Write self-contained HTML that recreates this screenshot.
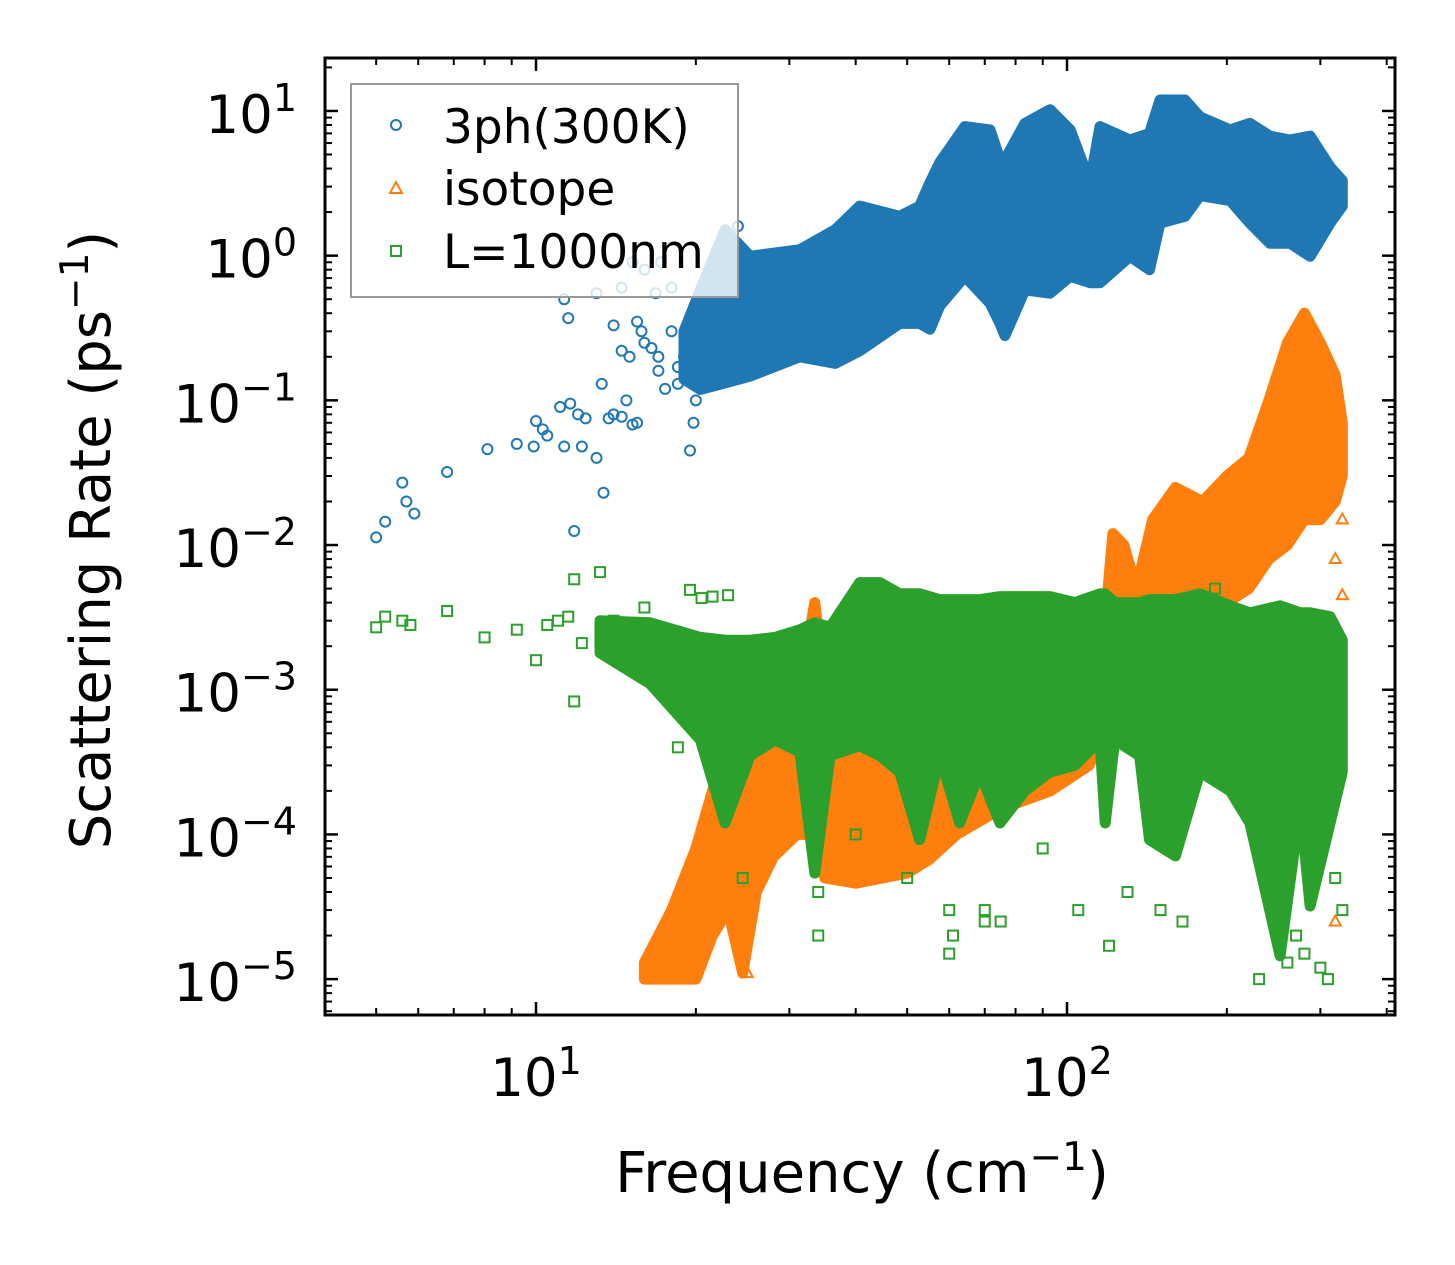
<!DOCTYPE html>
<html><head><meta charset="utf-8"><style>
body{margin:0;background:#fff;}
svg{display:block;font-family:"DejaVu Sans","Liberation Sans",sans-serif;}
</style></head><body>
<svg id="chart" width="1455" height="1265" viewBox="0 0 1455 1265" xmlns="http://www.w3.org/2000/svg">
<defs><clipPath id="clip"><rect x="325" y="58" width="1070" height="957"/></clipPath></defs>
<rect width="1455" height="1265" fill="#fff"/>
<g id="plot" clip-path="url(#clip)"></g>
<g id="axes"></g>
<text x="862" y="1192" font-size="56" text-anchor="middle">Frequency (cm<tspan dy="-22" font-size="39">−1</tspan><tspan dy="22">)</tspan></text>
<text transform="translate(110,540) rotate(-90)" font-size="56" text-anchor="middle">Scattering Rate (ps<tspan dy="-22" font-size="39">−1</tspan><tspan dy="22">)</tspan></text>
<g>
<rect x="351" y="84" width="387" height="213" fill="#fff" fill-opacity="0.8" stroke="#999" stroke-width="2"/>
<g><circle cx="396" cy="125" r="5" fill="none" stroke="#1f77b4" stroke-width="2"/><text x="443" y="143" font-size="47">3ph(300K)</text></g>
<g><path d="M396,182 L402,193 L390,193 Z" fill="none" stroke="#ff7f0e" stroke-width="2"/><text x="443" y="205" font-size="47">isotope</text></g>
<g><rect x="391" y="246" width="10" height="10" fill="none" stroke="#2ca02c" stroke-width="2"/><text x="443" y="268" font-size="47">L=1000nm</text></g>
</g>
</svg>
<script>
// axis geometry
const X0=325,X1=1395,Y0=58,Y1=1015;
const xLogMin=0.6026,xLogMax=2.6177;
const yLogMin=-5.248,yLogMax=1.366;
function sx(v){return X0+(Math.log10(v)-xLogMin)/(xLogMax-xLogMin)*(X1-X0);}
function sy(v){return Y1-(Math.log10(v)-yLogMin)/(yLogMax-yLogMin)*(Y1-Y0);}

// blue: 3ph sparse points
const phFreq=[5.0,5.2,5.6,5.7,5.9,6.8,8.1,9.2,9.9,10,10.3,10.5,11.1,11.3,11.6,11.8,12.0,12.2,12.4,13.0,13.3,13.4,13.7,14,14.5,14.8,15.2,15.5,11.3,11.5,13.0,14.0,14.5,15.0,15.5,16,16.5,17,17.5,18,18.5,19,19.5,19.8,20,20.5,21,22,23,24,15.2,16.8,18,17.2,16,17,18.5,19.5,14.5,15.8];
const phVal=[0.0113,0.0145,0.027,0.020,0.0165,0.032,0.046,0.05,0.048,0.072,0.063,0.057,0.09,0.048,0.095,0.0125,0.08,0.048,0.075,0.04,0.13,0.023,0.075,0.08,0.077,0.1,0.068,0.07,0.5,0.37,0.55,0.33,0.6,0.2,0.35,0.8,0.23,0.16,0.12,0.3,0.13,0.2,0.045,0.07,0.1,0.6,0.25,0.95,1.3,1.6,0.9,0.55,0.6,0.9,0.25,0.2,0.17,0.25,0.22,0.3];
// blue dense cloud envelope
const phEnvF=[19,20.4,22.7,25.3,31.4,36.6,40.7,48.4,52.8,55.2,57.6,64.2,71.6,74.8,76.4,83.3,92.9,101.4,110.5,115.4,131.4,143,149.7,166.8,178,203,221,241,263,287,313,330];
const phEnvLo=[0.14,0.119,0.132,0.147,0.20,0.18,0.22,0.34,0.34,0.31,0.45,0.72,0.47,0.34,0.28,0.58,0.55,0.72,0.65,0.65,0.99,0.80,1.68,1.87,2.6,2.4,1.68,1.22,1.22,0.99,1.68,2.2];
const phEnvHi=[0.3,0.58,1.51,0.99,1.10,1.51,2.2,1.87,2.2,3.2,4.4,7.8,7.4,4.6,4.6,8.2,10.2,7.4,3.2,7.8,6.3,7.0,11.9,11.9,9.1,7.4,8.2,6.7,6.3,6.7,4.1,3.3];

// orange: isotope envelope + sparse
const isoEnvF=[16,18,20,21.5,23,24.5,26,28,31,33.5,35,40,50,55,62,75,93,110,118,122,128,135,145,160,180,200,220,240,260,280,300,320,330];
const isoEnvLo=[1e-5,1e-5,1e-5,2e-5,3e-5,1.1e-5,4e-5,7e-5,1e-4,1e-4,5e-5,4.6e-5,5.4e-5,6.7e-5,1e-4,1.5e-4,2e-4,3e-4,5e-4,1e-3,2e-3,3e-3,3e-3,3e-3,4e-3,4e-3,5e-3,8e-3,1e-2,1.5e-2,1.5e-2,2e-2,3e-2];
const isoEnvHi=[1.3e-5,3e-5,8e-5,2e-4,4e-4,5e-4,5e-4,6e-4,8e-4,4e-3,1e-3,1e-3,1e-3,1e-3,1e-3,1e-3,1e-3,2e-3,3e-3,1.2e-2,1e-2,5e-3,1.5e-2,2.5e-2,2e-2,3e-2,4e-2,1e-1,2.5e-1,4e-1,2.5e-1,1.5e-1,7e-2];
const isoFreq=[17,18,19,20,25,320,330,330,320];
const isoVal=[1e-5,1.2e-5,1e-5,1.1e-5,1.1e-5,2.5e-5,4.5e-3,1.5e-2,8e-3];

// green: boundary scattering
const bFreq=[5,5.2,5.6,5.8,6.8,8.0,9.2,10,10.5,11,11.5,11.8,11.8,12.2,13.2,14,15,16,17,18,18.5,19.5,20.5,21.5,23,24.5,34,34,40,50,60,61,70,75,90,105,120,130,150,165,190,230,260,270,280,300,310,320,330,60,70];
const bVal=[0.0027,0.0032,0.003,0.0028,0.0035,0.0023,0.0026,0.0016,0.0028,0.003,0.0032,0.0058,0.00083,0.0021,0.0065,0.003,0.0025,0.0037,0.0021,0.0016,0.0004,0.0049,0.0043,0.0044,0.0045,0.00005,0.00002,0.00004,0.0001,0.00005,0.000015,0.00002,0.00003,0.000025,0.00008,0.00003,0.000017,0.00004,0.00003,0.000025,0.005,0.00001,0.000013,0.00002,0.000015,0.000012,0.00001,0.00005,0.00003,0.00003,0.000025];
const bEnvF=[13.2,16.4,20.4,22.7,25.3,28.2,31.4,33.5,35.8,40.7,44.4,48.4,52.8,57.6,62.8,68.5,74.8,83.3,92.9,103.5,115.4,118,123,137,143,160,178,203,221,252,275,287,313,330];
const bEnvHi=[3.0e-3,2.9e-3,2.3e-3,2.2e-3,2.2e-3,2.3e-3,2.6e-3,2.9e-3,2.7e-3,5.5e-3,5.5e-3,4.6e-3,4.6e-3,4.2e-3,4.2e-3,4.2e-3,4.4e-3,4.4e-3,4.4e-3,4.0e-3,4.6e-3,4.6e-3,4.0e-3,4.0e-3,4.2e-3,4.2e-3,4.6e-3,3.8e-3,3.4e-3,3.8e-3,3.4e-3,3.4e-3,3.2e-3,2.2e-3];
const bEnvLo=[1.8e-3,1.1e-3,4.5e-4,1.2e-4,3.5e-4,4.5e-4,3.7e-4,5.4e-5,3.5e-4,4.1e-4,3.5e-4,2.7e-4,9.2e-5,3.5e-4,1.2e-4,2.7e-4,1.2e-4,2.0e-4,2.7e-4,3.0e-4,4.5e-4,1.2e-4,4.5e-4,3.5e-4,9.2e-5,7.1e-5,2.7e-4,2.0e-4,1.2e-4,1.45e-5,1.6e-4,3.2e-5,1.2e-4,2.7e-4];

const NS='http://www.w3.org/2000/svg';
const plot=document.getElementById('plot');
const axes=document.getElementById('axes');
function mk(tag,attrs,parent){const e=document.createElementNS(NS,tag);for(const k in attrs)e.setAttribute(k,attrs[k]);parent.appendChild(e);return e;}

function envelope(F,lo,hi,color,name){
  let pts=F.map((f,i)=>sx(f).toFixed(1)+','+sy(hi[i]).toFixed(1));
  for(let i=F.length-1;i>=0;i--)pts.push(sx(F[i]).toFixed(1)+','+sy(lo[i]).toFixed(1));
  const p=mk('polygon',{points:pts.join(' '),fill:color,stroke:color,'stroke-width':11,'stroke-linejoin':'round'},plot);
  
  
}
function circles(F,V,color,name){
  F.forEach((f,i)=>{const c=mk('circle',{cx:sx(f),cy:sy(V[i]),r:5,fill:'none',stroke:color,'stroke-width':2},plot);
  
  });
}
function tris(F,V,color,name){
  F.forEach((f,i)=>{const x=sx(f),y=sy(V[i]);const t=mk('path',{d:`M${x},${y-6}L${x+5.5},${y+4}L${x-5.5},${y+4}Z`,fill:'none',stroke:color,'stroke-width':2},plot);
  
  });
}
function squares(F,V,color,name){
  F.forEach((f,i)=>{const r=mk('rect',{x:sx(f)-5,y:sy(V[i])-5,width:10,height:10,fill:'none',stroke:color,'stroke-width':2},plot);
  
  });
}
envelope(phEnvF,phEnvLo,phEnvHi,'#1f77b4','3ph-cloud');
circles(phFreq,phVal,'#1f77b4','3ph-point');
envelope(isoEnvF,isoEnvLo,isoEnvHi,'#ff7f0e','isotope-cloud');
tris(isoFreq,isoVal,'#ff7f0e','isotope-point');
envelope(bEnvF,bEnvLo,bEnvHi,'#2ca02c','boundary-cloud');
squares(bFreq,bVal,'#2ca02c','boundary-point');

// frame
const fr=mk('rect',{x:X0,y:Y0,width:X1-X0,height:Y1-Y0,fill:'none',stroke:'#000','stroke-width':3},axes);



// ticks
function line(x1,y1,x2,y2,w){mk('line',{x1,y1,x2,y2,stroke:'#000','stroke-width':w},axes);}
const xMajors=[10,100];
const xMinors=[5,6,7,8,9,20,30,40,50,60,70,80,90,200,300,400];
xMajors.forEach(v=>{const x=sx(v);line(x,Y1,x,Y1-13,2.5);line(x,Y0,x,Y0+13,2.5);
  const t=mk('text',{x:x,y:1096,'font-size':53,'text-anchor':'middle'},axes);
  
  
  t.innerHTML='10<tspan dy="-22" font-size="38">'+Math.log10(v)+'</tspan>';});
xMinors.forEach(v=>{const x=sx(v);line(x,Y1,x,Y1-7,2);line(x,Y0,x,Y0+7,2);});
const yExps=[1,0,-1,-2,-3,-4,-5];
yExps.forEach(e=>{const y=sy(Math.pow(10,e));line(X0,y,X0+13,y,2.5);line(X1,y,X1-13,y,2.5);
  const t=mk('text',{x:297,y:y+22,'font-size':53,'text-anchor':'end'},axes);
  
  
  t.innerHTML='10<tspan dy="-22" font-size="38">'+(e<0?'−'+(-e):e)+'</tspan>';});
for(let e=-6;e<=1;e++){for(let m=2;m<=9;m++){const v=m*Math.pow(10,e);const y=sy(v);if(y<Y0||y>Y1)continue;line(X0,y,X0+7,y,2);line(X1,y,X1-7,y,2);}}
</script>
</body></html>
